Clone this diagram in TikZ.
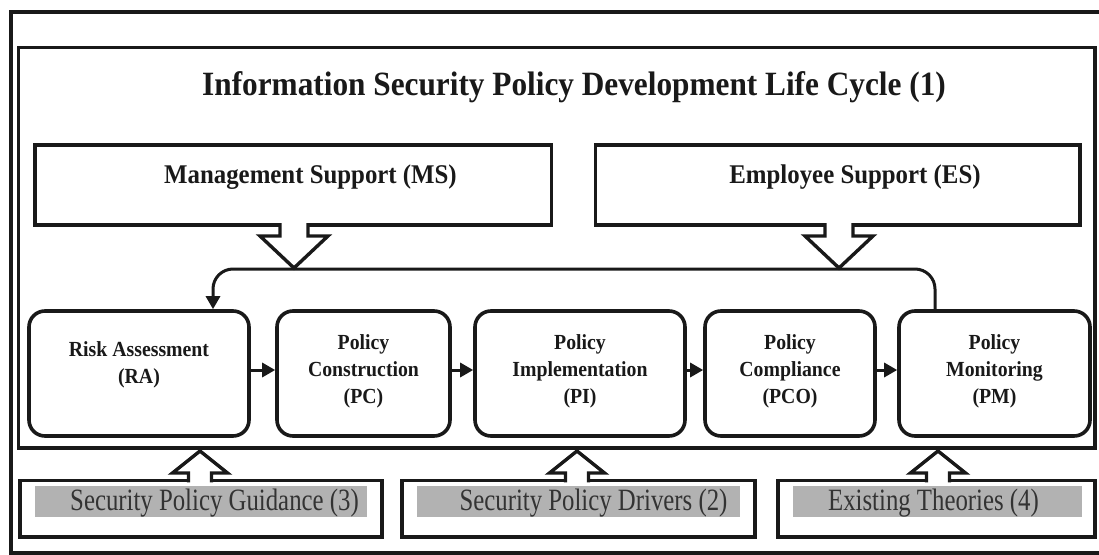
\documentclass[tikz,border=0pt]{standalone}
\usepackage{fontspec}
\setmainfont{Liberation Serif}
\newfontfamily\hdfont{Liberation Serif}[FakeStretch=0.92]
\newfontfamily\lbfont{Liberation Serif}[FakeStretch=0.8]
\usetikzlibrary{arrows.meta}
\definecolor{bandgray}{gray}{0.70}
\definecolor{txtgray}{gray}{0.2}
\definecolor{ink}{gray}{0.1}
\tikzset{
  frame/.style={draw=ink, line width=4pt},
  sbox/.style={draw=ink, line width=3.6pt, rectangle, inner sep=0pt},
  pbox/.style={draw=ink, line width=3.6pt, rectangle, rounded corners=16pt, inner sep=0pt},
  ttl/.style={font=\hdfont\bfseries\fontsize{34}{40}\selectfont, text=ink, anchor=base, inner sep=0pt},
  stxt/.style={font=\hdfont\bfseries\fontsize{27}{32}\selectfont, text=ink, anchor=base, inner sep=0pt},
  ptxt/.style={font=\hdfont\bfseries\fontsize{21.5}{27}\selectfont, text=ink, align=center, inner sep=0pt},
  btxt/.style={font=\lbfont\fontsize{31}{36}\selectfont, text=txtgray, anchor=base, inner sep=0pt},
  band/.style={fill=bandgray, draw=none, rectangle, inner sep=0pt},
  flow/.style={draw=ink, line width=3pt, -{Triangle[length=13pt,width=14pt]}},
  hollow/.style={draw=ink, line width=3.4pt, line join=miter},
  uparr/.pic={
    \fill[white] (-11.5,2) -- (-11.5,-7.5) -- (-27.5,-7.5) -- (0,-29.5) -- (27.5,-7.5) -- (11.5,-7.5) -- (11.5,2) -- cycle;
    \draw[hollow] (-11.5,1.8) -- (-11.5,-7.5) -- (-27.5,-7.5) -- (0,-29.5) -- (27.5,-7.5) -- (11.5,-7.5) -- (11.5,1.8);
  },
  dnarr/.pic={
    \fill[white] (-14,-2) -- (-14,11) -- (-34,11) -- (0,43) -- (34,11) -- (14,11) -- (14,-2) -- cycle;
    \draw[hollow] (-14,-1.8) -- (-14,11) -- (-34,11) -- (0,43) -- (34,11) -- (14,11) -- (14,-1.8);
  }
}
\begin{document}
\begin{tikzpicture}[x=1pt,y=-1pt]
  \useasboundingbox (0,0) rectangle (1099,554);
  \clip (0,0) rectangle (1099,554);
  \fill[white] (0,0) rectangle (1099,554);
  % frames
  \draw[frame] (11,12) rectangle (1112,553);
  \node[sbox, minimum width=1076.5pt, minimum height=400.5pt] (life) at (556.75,247.75) {};
  \node[ttl] (title) at (574,95) {Information Security Policy Development Life Cycle (1)};
  % support boxes
  \node[sbox, minimum width=516.5pt, minimum height=80pt] (MS) at (293.25,185) {};
  \node[sbox, minimum width=484.5pt, minimum height=80pt] (ES) at (837.75,185) {};
  \node[stxt] (MSt) at (310.5,183) {Management Support (MS)};
  \node[stxt] (ESt) at (855,183) {Employee Support (ES)};
  \pic at (294,225) {dnarr};
  \pic at (839,225) {dnarr};
  % process boxes
  \node[pbox, minimum width=220pt, minimum height=125pt] (RA) at (139,373.5) {};
  \node[pbox, minimum width=173pt, minimum height=125pt] (PC) at (363.5,373.5) {};
  \node[pbox, minimum width=210pt, minimum height=125pt] (PI) at (580,373.5) {};
  \node[pbox, minimum width=170pt, minimum height=125pt] (PCO) at (790,373.5) {};
  \node[pbox, minimum width=191pt, minimum height=125pt] (PM) at (994.5,373.5) {};
  \node[ptxt] (RAt) at (139,364.5) {Risk Assessment\\(RA)};
  \node[ptxt] (PCt) at (363.5,371.5) {Policy\\Construction\\(PC)};
  \node[ptxt] (PIt) at (580,371.5) {Policy\\Implementation\\(PI)};
  \node[ptxt] (PCOt) at (790,371.5) {Policy\\Compliance\\(PCO)};
  \node[ptxt] (PMt) at (994.5,371.5) {Policy\\Monitoring\\(PM)};
  \draw[flow] ([yshift=3.5pt]RA.east) -- ([yshift=3.5pt]PC.west);
  \draw[flow] ([yshift=3.5pt]PC.east) -- ([yshift=3.5pt]PI.west);
  \draw[flow] ([yshift=3.5pt]PI.east) -- ([yshift=3.5pt]PCO.west);
  \draw[flow] ([yshift=3.5pt]PCO.east) -- ([yshift=3.5pt]PM.west);
  % feedback loop
  \coordinate (ll) at (213,269);
  \coordinate (lr) at (935,269);
  \draw[flow, rounded corners=20pt] (PM.north -| lr) |- (ll) -- (RA.north -| ll);
  % bottom input boxes
  \node[sbox, minimum width=362pt, minimum height=56.5pt] (SPG) at (201,508.75) {};
  \node[sbox, minimum width=353pt, minimum height=56.5pt] (SPD) at (578.5,508.75) {};
  \node[sbox, minimum width=317pt, minimum height=56.5pt] (ET) at (936.5,508.75) {};
  \node[band, minimum width=332pt, minimum height=31pt] (SPGb) at (201,501.5) {};
  \node[band, minimum width=323pt, minimum height=31pt] (SPDb) at (578.5,501.5) {};
  \node[band, minimum width=289pt, minimum height=31pt] (ETb) at (937.5,501.5) {};
  \node[btxt] (SPGt) at (214.5,510.5) {Security Policy Guidance (3)};
  \node[btxt] (SPDt) at (593.5,510.5) {Security Policy Drivers (2)};
  \node[btxt] (ETt) at (933.5,510.5) {Existing Theories (4)};
  \pic at (200,480.5) {uparr};
  \pic at (577,480.5) {uparr};
  \pic at (938,480.5) {uparr};
\end{tikzpicture}
\end{document}
